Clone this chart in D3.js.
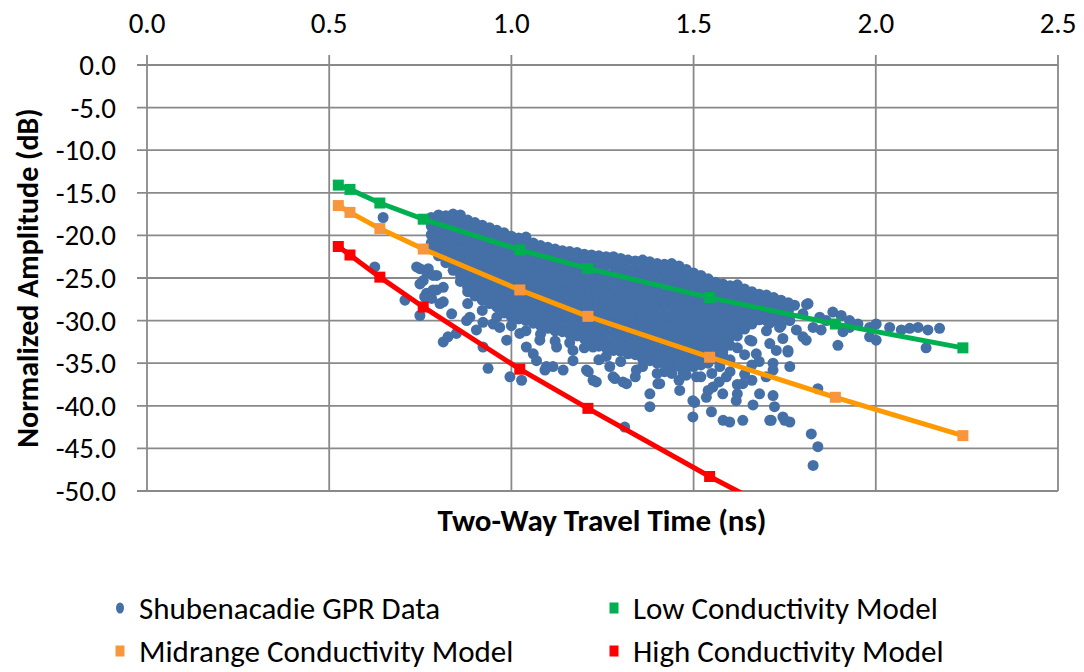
<!DOCTYPE html>
<html>
<head>
<meta charset="utf-8">
<script src="https://cdnjs.cloudflare.com/ajax/libs/d3/7.8.5/d3.min.js"></script>
<style>
  body { margin: 0; background: #fff; }
  svg { display: block; }
  text { font-family: Carlito, Lato, sans-serif; fill: #000; }
</style>
</head>
<body>
<svg id="chart" width="1084" height="672"></svg>
<script>

// ---- data ----
var xTicks = [0.0, 0.5, 1.0, 1.5, 2.0, 2.5];
var yTicks = [0, -5, -10, -15, -20, -25, -30, -35, -40, -45, -50];

var modelTime = [0.525, 0.557, 0.639, 0.758, 1.023, 1.210, 1.544, 1.889, 2.239];
var lowModel  = [-14.1, -14.6, -16.2, -18.1, -21.7, -23.9, -27.3, -30.4, -33.2];
var midModel  = [-16.5, -17.3, -19.2, -21.6, -26.4, -29.5, -34.3, -39.0, -43.5];
var highModel = [-21.3, -22.3, -24.9, -28.4, -35.7, -40.3, -48.3, -56.0, -63.0];

// dense part of the GPR cloud, one column per travel time
var gprColumns = [
  [0.78, [-17.9, -18.9, -19.9, -20.9, -21.6]],
  [0.80, [-17.6, -18.5, -19.5, -20.5, -21.5, -22.4]],
  [0.82, [-17.7, -18.7, -19.7, -20.7, -21.7, -22.7, -23.2]],
  [0.84, [-17.5, -18.4, -19.4, -20.4, -21.4, -22.4, -23.4, -24.1]],
  [0.86, [-17.6, -18.6, -19.6, -20.6, -21.6, -22.6, -23.6, -24.6, -25.4]],
  [0.88, [-18.2, -19.1, -20.1, -21.1, -22.1, -23.1, -24.1, -25.1, -26.1, -26.6]],
  [0.90, [-18.5, -19.5, -20.5, -21.5, -22.5, -23.5, -24.5, -25.5, -26.5, -27.1]],
  [0.92, [-18.8, -19.8, -20.8, -21.8, -22.8, -23.8, -24.8, -25.8, -26.8, -27.6]],
  [0.94, [-19.1, -20.1, -21.1, -22.1, -23.1, -24.1, -25.1, -26.1, -27.1, -28.0]],
  [0.96, [-19.4, -20.4, -21.4, -22.4, -23.4, -24.4, -25.4, -26.4, -27.4, -28.4]],
  [0.98, [-19.7, -20.7, -21.7, -22.7, -23.7, -24.7, -25.7, -26.7, -27.7, -28.7, -29.1]],
  [1.00, [-20.1, -21.1, -22.1, -23.1, -24.1, -25.1, -26.1, -27.1, -28.1, -29.1, -29.6]],
  [1.02, [-20.3, -21.3, -22.3, -23.3, -24.3, -25.3, -26.3, -27.3, -28.3, -29.3, -29.8]],
  [1.04, [-20.2, -21.1, -22.1, -23.1, -24.1, -25.1, -26.1, -27.1, -28.1, -29.1, -30.0]],
  [1.06, [-20.9, -21.9, -22.9, -23.9, -24.9, -25.9, -26.9, -27.9, -28.9, -29.9, -30.3]],
  [1.08, [-21.2, -22.2, -23.2, -24.2, -25.2, -26.2, -27.2, -28.2, -29.2, -30.2, -30.6]],
  [1.10, [-21.4, -22.4, -23.4, -24.4, -25.4, -26.4, -27.4, -28.4, -29.4, -30.4, -30.9]],
  [1.12, [-21.6, -22.6, -23.6, -24.6, -25.6, -26.6, -27.6, -28.6, -29.6, -30.6, -31.2]],
  [1.14, [-21.8, -22.8, -23.8, -24.8, -25.8, -26.8, -27.8, -28.8, -29.8, -30.8, -31.3]],
  [1.16, [-21.9, -22.9, -23.9, -24.9, -25.9, -26.9, -27.9, -28.9, -29.9, -30.9, -31.6]],
  [1.18, [-22.0, -23.0, -24.0, -25.0, -26.0, -27.0, -28.0, -29.0, -30.0, -31.0, -31.8]],
  [1.20, [-22.2, -23.2, -24.2, -25.2, -26.2, -27.2, -28.2, -29.2, -30.2, -31.2, -32.1]],
  [1.22, [-22.3, -23.3, -24.3, -25.3, -26.3, -27.3, -28.3, -29.3, -30.3, -31.3, -32.3, -32.7]],
  [1.24, [-22.4, -23.4, -24.4, -25.4, -26.4, -27.4, -28.4, -29.4, -30.4, -31.4, -32.4, -33.0]],
  [1.26, [-22.5, -23.5, -24.5, -25.5, -26.5, -27.5, -28.5, -29.5, -30.5, -31.5, -32.5, -33.2]],
  [1.28, [-22.5, -23.5, -24.5, -25.5, -26.5, -27.5, -28.5, -29.5, -30.5, -31.5, -32.5, -33.5]],
  [1.30, [-22.7, -23.7, -24.7, -25.7, -26.7, -27.7, -28.7, -29.7, -30.7, -31.7, -32.7, -33.6]],
  [1.32, [-22.9, -23.9, -24.9, -25.9, -26.9, -27.9, -28.9, -29.9, -30.9, -31.9, -32.9, -33.9]],
  [1.34, [-23.0, -24.0, -25.0, -26.0, -27.0, -28.0, -29.0, -30.0, -31.0, -32.0, -33.0, -34.0]],
  [1.36, [-22.9, -23.9, -24.9, -25.9, -26.9, -27.9, -28.9, -29.9, -30.9, -31.9, -32.9, -33.9, -34.5]],
  [1.38, [-23.1, -24.1, -25.1, -26.1, -27.1, -28.1, -29.1, -30.1, -31.1, -32.1, -33.1, -34.1, -34.7]],
  [1.40, [-23.3, -24.3, -25.3, -26.3, -27.3, -28.3, -29.3, -30.3, -31.3, -32.3, -33.3, -34.3, -35.0]],
  [1.42, [-23.4, -24.4, -25.4, -26.4, -27.4, -28.4, -29.4, -30.4, -31.4, -32.4, -33.4, -34.4, -35.1]],
  [1.44, [-23.3, -24.3, -25.3, -26.3, -27.3, -28.3, -29.3, -30.3, -31.3, -32.3, -33.3, -34.3, -35.2]],
  [1.46, [-23.6, -24.6, -25.6, -26.6, -27.6, -28.6, -29.6, -30.6, -31.6, -32.6, -33.6, -34.6, -35.3]],
  [1.48, [-24.0, -25.0, -26.0, -27.0, -28.0, -29.0, -30.0, -31.0, -32.0, -33.0, -34.0, -35.0, -35.6]],
  [1.50, [-24.4, -25.4, -26.4, -27.4, -28.4, -29.4, -30.4, -31.4, -32.4, -33.4, -34.4, -35.4]],
  [1.52, [-24.7, -25.7, -26.7, -27.7, -28.7, -29.7, -30.7, -31.7, -32.7, -33.7, -34.7, -35.2]],
  [1.54, [-25.1, -26.1, -27.1, -28.1, -29.1, -30.1, -31.1, -32.1, -33.1, -34.1, -35.0]],
  [1.56, [-25.5, -26.5, -27.5, -28.5, -29.5, -30.5, -31.5, -32.5, -33.5, -34.5]],
  [1.58, [-25.7, -26.7, -27.7, -28.7, -29.7, -30.7, -31.7, -32.7, -33.7, -34.1]],
  [1.60, [-25.9, -26.9, -27.9, -28.9, -29.9, -30.9, -31.9, -32.9]],
  [1.62, [-25.8, -26.8, -27.8, -28.8, -29.8, -30.8, -31.8]],
  [1.64, [-26.3, -27.3, -28.3, -29.3, -30.3, -31.0]],
  [1.66, [-26.6, -27.6, -28.6, -29.6, -30.4]],
  [1.68, [-26.9, -27.9, -28.9, -29.9]],
  [1.70, [-27.0, -28.0, -29.0, -30.0]],
  [1.72, [-27.3, -28.3, -29.3, -30.0]],
  [1.74, [-27.6, -28.6, -29.5]],
  [1.76, [-27.9, -28.9, -29.6]]
];

// scattered GPR picks around the dense part
var gprLoose = [
  [0.648, -17.9], [0.625, -23.7], [0.708, -27.6], [0.749, -29.4], [0.740, -23.7],
  [0.749, -23.9], [0.758, -25.3], [0.767, -24.3], [0.772, -23.9], [0.785, -24.7],
  [0.749, -25.7], [0.767, -26.8], [0.795, -26.4], [0.813, -27.8], [0.781, -27.4],
  [0.762, -27.2], [0.804, -28.0], [0.813, -26.1], [0.795, -24.7], [0.785, -26.4],
  [0.836, -29.2], [0.813, -32.5], [0.826, -31.9], [0.849, -31.5], [0.886, -29.6],
  [0.904, -31.1], [0.877, -30.0], [0.922, -33.1], [0.936, -35.6], [0.922, -30.2],
  [0.950, -30.4], [0.968, -30.8], [0.987, -32.3], [0.996, -36.6], [1.028, -37.0],
  [1.041, -33.1], [1.023, -31.5], [1.060, -33.9], [1.069, -34.7], [1.078, -32.3],
  [1.092, -35.8], [1.096, -35.4], [1.114, -35.4], [1.124, -33.1], [1.142, -35.8],
  [1.169, -34.7], [1.169, -33.5], [1.206, -35.8], [1.211, -36.0], [1.224, -37.0],
  [1.233, -37.2], [1.224, -33.1], [1.270, -35.4], [1.279, -36.6], [1.284, -36.8],
  [1.306, -37.2], [1.316, -37.4], [1.311, -42.5], [1.343, -35.8], [1.380, -38.6],
  [1.380, -40.1], [1.402, -37.4], [1.407, -37.4], [1.425, -34.7], [1.462, -38.2],
  [1.462, -35.4], [1.471, -36.2], [1.498, -39.4], [1.498, -41.3], [1.503, -39.6],
  [1.508, -36.6], [1.535, -39.0], [1.549, -40.7], [1.553, -37.8], [1.572, -35.4],
  [1.581, -41.7], [1.590, -36.6], [1.599, -41.9], [1.617, -39.4], [1.635, -41.7],
  [1.635, -37.4], [1.663, -39.9], [1.672, -33.9], [1.681, -38.6], [1.699, -36.6],
  [1.709, -32.7], [1.713, -41.7], [1.718, -35.0], [1.727, -33.5], [1.654, -32.3],
  [1.750, -41.7], [1.764, -41.9], [1.709, -41.7], [1.745, -41.3], [1.722, -40.1],
  [1.718, -38.8], [1.718, -35.8], [1.764, -35.4], [1.759, -33.7], [1.841, -38.0],
  [1.823, -43.3], [1.841, -44.8], [1.828, -47.0],
  [1.550, -36.2], [1.570, -37.2], [1.600, -36.0], [1.620, -37.5], [1.640, -36.3],
  [1.660, -37.0], [1.580, -38.6], [1.620, -38.6], [1.660, -35.2], [1.520, -36.6],
  [1.540, -38.2], [1.600, -34.6], [1.640, -34.0], [1.680, -34.8], [1.620, -33.2],
  [1.660, -32.4], [1.700, -31.2], [1.740, -30.6],
  [1.440, -36.2], [1.460, -37.0], [1.480, -36.4], [1.420, -36.0], [1.400, -36.2],
  [1.360, -35.4], [1.340, -36.6], [1.300, -34.8], [1.260, -34.2], [1.240, -34.6],
  [1.200, -33.2], [1.160, -32.6], [1.120, -32.4], [1.080, -31.6], [1.040, -31.2],
  [1.000, -30.6], [0.960, -29.6], [0.920, -28.8], [0.880, -28.0],
  [1.727, -28.4], [1.777, -28.2], [1.814, -28.0], [1.846, -29.6], [1.882, -29.0],
  [1.905, -29.4], [1.928, -30.0], [1.951, -30.4], [1.983, -30.8], [2.001, -30.4],
  [1.983, -31.9], [2.001, -32.3], [2.038, -30.8], [2.070, -31.1], [2.093, -30.9],
  [2.116, -30.8], [2.143, -31.1], [2.175, -30.9], [2.138, -33.2], [1.896, -32.9],
  [1.910, -31.3], [1.928, -30.8], [1.800, -31.9], [1.809, -32.3], [1.759, -33.5],
  [1.745, -32.1], [1.850, -31.1], [1.828, -30.8], [1.736, -30.8], [1.782, -31.1],
  [1.764, -30.0], [1.800, -29.2], [1.864, -30.0], [1.709, -30.3], [1.810, -28.1]
];

var legendNames = ["Shubenacadie GPR Data", "Low Conductivity Model",
                   "Midrange Conductivity Model", "High Conductivity Model"];

// ---- drawing ----
var svg = d3.select("#chart");
var gridColor = "#898989";

var x = d3.scaleLinear().domain([0, 2.5]).range([147, 1058]);
var y = d3.scaleLinear().domain([0, -50]).range([65, 491]);

svg.append("clipPath").attr("id", "plotClip")
  .append("rect")
  .attr("x", x(0)).attr("y", y(0))
  .attr("width", x(2.5) - x(0)).attr("height", y(-50) - y(0));

// grid, with the little outside ticks on top and left
svg.append("g").selectAll("line").data(xTicks).enter()
  .append("line")
  .attr("x1", function(d){ return x(d); }).attr("x2", function(d){ return x(d); })
  .attr("y1", y(0) - 10).attr("y2", y(-50))
  .attr("stroke", gridColor).attr("stroke-width", 1.8);

svg.append("g").selectAll("line").data(yTicks).enter()
  .append("line")
  .attr("y1", function(d){ return y(d); }).attr("y2", function(d){ return y(d); })
  .attr("x1", x(0) - 10).attr("x2", x(2.5))
  .attr("stroke", gridColor).attr("stroke-width", 1.8);

// tick labels
svg.append("g").selectAll("text").data(xTicks).enter()
  .append("text")
  .attr("x", function(d){ return x(d); })
  .attr("y", 33)
  .attr("text-anchor", "middle")
  .style("font-size", "29px")
  .text(function(d){ return d.toFixed(1); });

svg.append("g").selectAll("text").data(yTicks).enter()
  .append("text")
  .attr("x", 116)
  .attr("y", function(d){ return y(d) + 10; })
  .attr("text-anchor", "end")
  .style("font-size", "29px")
  .text(function(d){ return d.toFixed(1); });

// axis titles
svg.append("text")
  .attr("x", 602).attr("y", 531)
  .attr("text-anchor", "middle")
  .style("font-size", "31px").style("font-weight", "bold")
  .text("Two-Way Travel Time (ns)");

svg.append("text")
  .attr("transform", "translate(38," + ((y(0) + y(-50)) / 2) + ") rotate(-90)")
  .attr("text-anchor", "middle")
  .style("font-size", "30px").style("font-weight", "bold")
  .text("Normalized Amplitude (dB)");

// GPR scatter
var gprPoints = [];
gprColumns.forEach(function(col){
  col[1].forEach(function(v){ gprPoints.push([col[0], v]); });
});
gprPoints = gprPoints.concat(gprLoose);

var plot = svg.append("g").attr("clip-path", "url(#plotClip)");

plot.append("g").selectAll("circle").data(gprPoints).enter()
  .append("circle")
  .attr("cx", function(p){ return x(p[0]); })
  .attr("cy", function(p){ return y(p[1]); })
  .attr("r", 5.5)
  .attr("fill", "#4470a7");

// model curves
var models = [
  { vals: lowModel,  line: "#00b050", marker: "#00b050" },
  { vals: midModel,  line: "#ff9900", marker: "#f7963c" },
  { vals: highModel, line: "#ff0000", marker: "#ff0000" }
];

var lineGen = d3.line()
  .x(function(d){ return x(d[0]); })
  .y(function(d){ return y(d[1]); });

models.forEach(function(m){
  var pts = modelTime.map(function(t, i){ return [t, m.vals[i]]; });
  plot.append("path")
    .attr("d", lineGen(pts))
    .attr("fill", "none")
    .attr("stroke", m.line)
    .attr("stroke-width", 5);
  plot.append("g").selectAll("rect").data(pts).enter()
    .append("rect")
    .attr("x", function(d){ return x(d[0]) - 5.5; })
    .attr("y", function(d){ return y(d[1]) - 5.5; })
    .attr("width", 11).attr("height", 11)
    .attr("fill", m.marker);
});

// legend
var legendSpots = [[120, 608], [614, 608], [120, 651], [614, 651]];
var legendColors = ["#4470a7", "#00b050", "#f7963c", "#ff0000"];

var legend = svg.append("g");
legendNames.forEach(function(name, i){
  var lx = legendSpots[i][0], ly = legendSpots[i][1];
  if (i === 0) {
    legend.append("ellipse").attr("cx", lx).attr("cy", ly)
      .attr("rx", 4).attr("ry", 5.5).attr("fill", legendColors[i]);
  } else {
    legend.append("rect").attr("x", lx - 4.5).attr("y", ly - 5.5)
      .attr("width", 9).attr("height", 11).attr("fill", legendColors[i]);
  }
  legend.append("text")
    .attr("x", lx + 19).attr("y", ly + 10.5)
    .style("font-size", "31px")
    .text(name);
});

</script>
</body>
</html>
